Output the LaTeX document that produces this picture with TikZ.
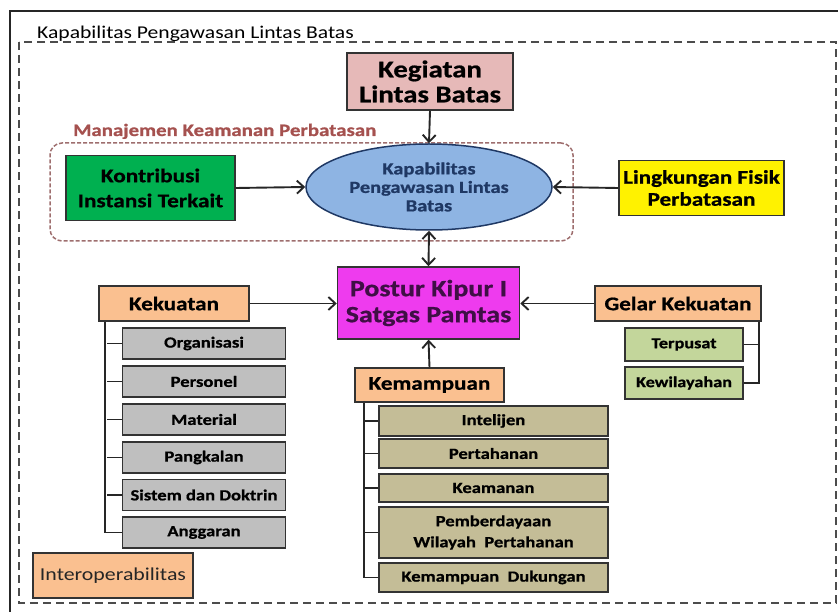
\documentclass[tikz,border=0pt]{standalone}
\usepackage{fontspec}
\setmainfont{Carlito}[FakeStretch=1.2,BoldFeatures={FakeBold=0.8}]
\usetikzlibrary{arrows.meta,shapes.geometric,positioning}

\definecolor{pinkbox}{HTML}{E6B9B8}
\definecolor{greenbox}{HTML}{00B050}
\definecolor{bluefill}{HTML}{8EB4E3}
\definecolor{navytext}{HTML}{1F3864}
\definecolor{magentabox}{HTML}{EE3BEE}
\definecolor{purpletext}{HTML}{3F0F45}
\definecolor{peachbox}{HTML}{FAC090}
\definecolor{graybox}{HTML}{BFBFBF}
\definecolor{olivebox}{HTML}{C4BD97}
\definecolor{lightgreen}{HTML}{C3D69B}
\definecolor{manred}{HTML}{A5514F}
\definecolor{mandash}{HTML}{9E6E6E}

\newcommand{\fs}[2]{\fontsize{#1}{#2}\selectfont}

\begin{document}
\begin{tikzpicture}[x=1pt,y=1pt,
        box/.style={draw=black!80,line width=1.5pt,inner sep=0pt,align=center},
        head/.style={font=\bfseries\fs{19.3}{22}},
        item/.style={font=\bfseries\fs{15.5}{21}},
        arr/.style={line width=1.9pt,black!85,-{Straight Barb[length=7pt,width=13pt]}},
        tree/.style={line width=1.9pt,black!85}]
        \useasboundingbox (0,0) rectangle (838,-612);
        \draw [line width=2pt,black!85] (10,-612) -- (10,-11) -- (838,-11);
        \draw [line width=2.2pt,black!70,dash pattern=on 8pt off 5pt] (19,-42) rectangle (836,-603);
        \node [anchor=base west,inner sep=0pt,font=\fs{18}{19}] (judul) at (37,-39) {Kapabilitas Pengawasan Lintas Batas};
        \node [draw=mandash,line width=1.5pt,dash pattern=on 4pt off 2pt,rounded corners=12pt,minimum width=523pt,minimum height=98pt,inner sep=0pt] (manajemen) at (311.5,-192) {};
        \node [anchor=base west,inner sep=0pt,text=manred,font=\bfseries\fs{17.4}{19}] (judulman) at (73,-136) {Manajemen Keamanan Perbatasan};
        \node [box,fill=pinkbox,minimum width=166pt,minimum height=57pt,font=\bfseries\fs{24}{25}] (kegiatan) at (430,-81.5) {Kegiatan\\Lintas Batas};
        \node [ellipse,draw=navytext,fill=bluefill,line width=1.5pt,minimum width=246pt,minimum height=86pt,inner sep=0pt,align=center,text=navytext,font=\bfseries\fs{17}{18.5}] (kapabilitas) at (429,-187) {Kapabilitas\\Pengawasan Lintas\\Batas};
        \node [box,fill=greenbox,minimum width=169pt,minimum height=65pt,font=\bfseries\fs{19.4}{25}] (kontribusi) at (150.5,-188) {Kontribusi\\Instansi Terkait};
        \node [box,fill=yellow,minimum width=165pt,minimum height=55pt,font=\bfseries\fs{19.3}{22}] (lingkungan) at (701.5,-188) {Lingkungan Fisik\\Perbatasan};
        \node [box,fill=magentabox,minimum width=182pt,minimum height=72pt,text=purpletext,font=\bfseries\fs{23.3}{26}] (postur) at (428.5,-303) {Postur Kipur I\\Satgas Pamtas};
        \node [box,head,fill=peachbox,minimum width=150pt,minimum height=35pt] (kekuatan) at (174,-303.5) {Kekuatan};
        \node [box,head,fill=peachbox,minimum width=166pt,minimum height=35pt] (gelar) at (678,-303.5) {Gelar Kekuatan};
        \node [box,head,fill=peachbox,minimum width=149pt,minimum height=34pt] (kemampuan) at (429.5,-385) {Kemampuan};
        \node [box,item,fill=graybox,minimum width=163pt,minimum height=31pt] (organisasi) at (204,-343.5) {Organisasi};
        \node [box,item,fill=graybox,minimum width=163pt,minimum height=31pt] (personel) at (204,-381.5) {Personel};
        \node [box,item,fill=graybox,minimum width=163pt,minimum height=31pt] (material) at (204,-419.5) {Material};
        \node [box,item,fill=graybox,minimum width=163pt,minimum height=31pt] (pangkalan) at (204,-457.5) {Pangkalan};
        \node [box,item,fill=graybox,minimum width=163pt,minimum height=31pt] (sistem) at (204,-495) {Sistem dan Doktrin};
        \node [box,item,fill=graybox,minimum width=163pt,minimum height=31pt] (anggaran) at (204,-532.5) {Anggaran};
        \node [box,item,fill=olivebox,minimum width=229pt,minimum height=30pt] (intelijen) at (493.5,-421) {Intelijen};
        \node [box,item,fill=olivebox,minimum width=229pt,minimum height=29pt] (pertahanan) at (493.5,-453.5) {Pertahanan};
        \node [box,item,fill=olivebox,minimum width=229pt,minimum height=28pt] (keamanan) at (493.5,-488) {Keamanan};
        \node [box,item,fill=olivebox,minimum width=229pt,minimum height=51pt] (pemberdayaan) at (493.5,-532.5) {Pemberdayaan\\Wilayah\ \ Pertahanan};
        \node [box,item,fill=olivebox,minimum width=229pt,minimum height=29pt] (dukungan) at (493.5,-577.5) {Kemampuan\ \ Dukungan};
        \node [box,item,fill=lightgreen,minimum width=118pt,minimum height=33pt,font=\bfseries\fs{15.2}{18}] (terpusat) at (684,-344.5) {Terpusat};
        \node [box,item,fill=lightgreen,minimum width=118pt,minimum height=32pt,font=\bfseries\fs{15.2}{18}] (kewilayahan) at (684,-383) {Kewilayahan};
        \node [box,fill=peachbox,minimum width=160pt,minimum height=45pt,text=black!85,font=\fs{18.2}{20}] (interop) at (113,-575.5) {Interoperabilitas};
        \draw [arr] (kegiatan.south) -- (kapabilitas.north);
        \draw [arr] (kontribusi.east) -- (kapabilitas.west);
        \draw [arr] (lingkungan.west) -- (kapabilitas.east);
        \draw [arr,{Straight Barb[length=7pt,width=13pt]}-{Straight Barb[length=7pt,width=13pt]}] (kapabilitas.south) -- (postur.north);
        \draw [arr] (kekuatan.east) -- (postur.west |- kekuatan.east);
        \draw [arr] (gelar.west) -- (postur.east |- gelar.west);
        \draw [arr] (kemampuan.north) -- (postur.south);
        \draw [tree] ([xshift=7pt]kekuatan.south west) |- (anggaran.west);
        \draw [tree] (organisasi.west) -- ++(-15,0);
        \draw [tree] (personel.west) -- ++(-15,0);
        \draw [tree] (material.west) -- ++(-15,0);
        \draw [tree] (pangkalan.west) -- ++(-15,0);
        \draw [tree] (sistem.west) -- ++(-15,0);
        \draw [tree] ([xshift=10pt]kemampuan.south west) |- (dukungan.west);
        \draw [tree] (intelijen.west) -- ++(-14,0);
        \draw [tree] (pertahanan.west) -- ++(-14,0);
        \draw [tree] (keamanan.west) -- ++(-14,0);
        \draw [tree] (pemberdayaan.west) -- ++(-14,0);
        \draw [tree] ([xshift=-3pt]gelar.south east) |- (kewilayahan.east);
        \draw [tree] (terpusat.east) -- ++(15,0);
\end{tikzpicture}
\end{document}
